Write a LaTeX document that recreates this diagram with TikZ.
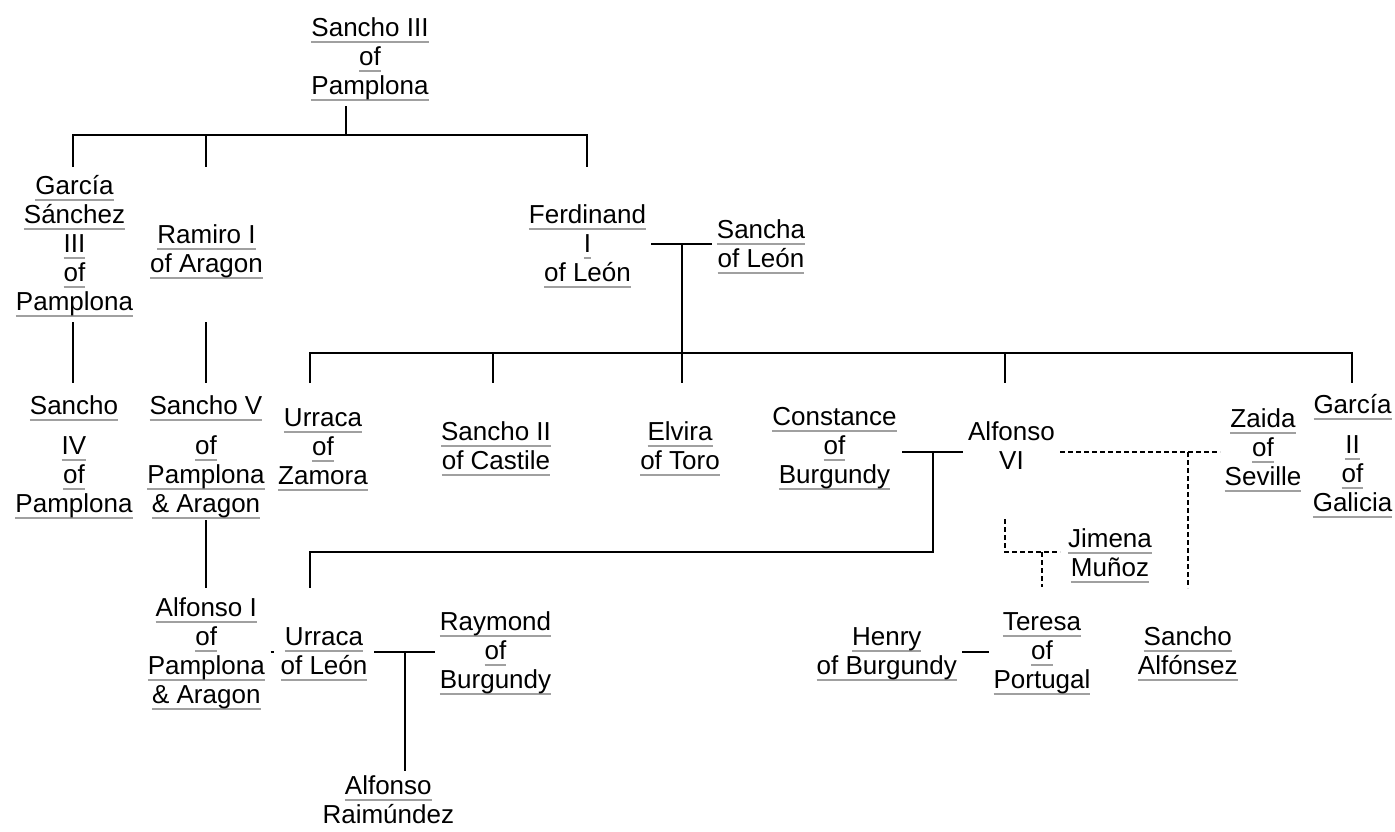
\documentclass[tikz,border=0pt]{standalone}
\usepackage{fontspec}
\setmainfont{Liberation Sans}
\definecolor{ulc}{HTML}{A0A0A0}
\newcommand\lk[1]{\setbox0\hbox{#1}\rlap{\color{ulc}\rule[-7.2pt]{\wd0}{2pt}}\box0\strut}
\tikzset{
  person/.style={inner sep=0pt, align=center, anchor=north, yshift=20.3pt, font={\fontsize{26}{29}\selectfont}},
  rel/.style={line width=1.8pt},
  ill/.style={line width=1.4pt, dash pattern=on 5pt off 3pt},
}
\begin{document}
\begin{tikzpicture}[x=1pt,y=-1pt]
\fill[white] (0,0) rectangle (1395,831);
\useasboundingbox (0,0) rectangle (1395,831);
% people
\node[person] (s3) at (370,36) {\lk{Sancho III}\\\lk{of}\\\lk{Pamplona}};
\node[person] (g3) at (74.5,194) {\lk{García}\\\lk{Sánchez}\\\lk{III}\\\lk{of}\\\lk{Pamplona}};
\node[person] (ram) at (206.5,243) {\lk{Ramiro I}\\\lk{of Aragon}};
\node[person] (fer) at (587.5,223) {\lk{Ferdinand}\\\lk{I}\\\lk{of León}};
\node[person] (sna) at (761,238) {\lk{Sancha}\\\lk{of León}};
\node[person] (s4) at (74,414) {\lk{Sancho}\\[11pt]\lk{IV}\\\lk{of}\\\lk{Pamplona}};
\node[person] (s5) at (206,414) {\lk{Sancho V}\\[11pt]\lk{of}\\\lk{Pamplona}\\\lk{\& Aragon}};
\node[person] (urz) at (323,426) {\lk{Urraca}\\\lk{of}\\\lk{Zamora}};
\node[person] (s2) at (496,440) {\lk{Sancho II}\\\lk{of Castile}};
\node[person] (elv) at (680,440) {\lk{Elvira}\\\lk{of Toro}};
\node[person] (con) at (834.5,425) {\lk{Constance}\\\lk{of}\\\lk{Burgundy}};
\node[person] (a6) at (1011.5,440) {Alfonso\strut\\VI\strut};
\node[person] (zai) at (1263,427) {\lk{Zaida}\\\lk{of}\\\lk{Seville}};
\node[person] (g2) at (1352.5,413) {\lk{García}\\[11pt]\lk{II}\\\lk{of}\\\lk{Galicia}};
\node[person] (jim) at (1110,547) {\lk{Jimena}\\\lk{Muñoz}};
\node[person] (a1) at (206.3,616) {\lk{Alfonso I}\\\lk{of}\\\lk{Pamplona}\\\lk{\& Aragon}};
\node[person] (url) at (324,645) {\lk{Urraca}\\\lk{of León}};
\node[person] (ray) at (495.5,630) {\lk{Raymond}\\\lk{of}\\\lk{Burgundy}};
\node[person] (ar) at (388.3,794) {\lk{Alfonso}\\Raimúndez\strut};
\node[person] (hen) at (886.8,645) {\lk{Henry}\\\lk{of Burgundy}};
\node[person] (ter) at (1042,630) {\lk{Teresa}\\\lk{of}\\\lk{Portugal}};
\node[person] (sal) at (1187.8,645) {\lk{Sancho}\\\lk{Alfónsez}};
% junction coordinates
\coordinate (s3d) at (346,106);
\coordinate (s3h) at (346,135);
\coordinate (hL) at (73,135);
\coordinate (hR) at (587,135);
\coordinate (hM) at (206,135);
\coordinate (g3t) at (73,167);
\coordinate (ramt) at (206,167);
\coordinate (fert) at (587,167);
\coordinate (g3b) at (73,322);
\coordinate (s4t) at (73,383);
\coordinate (ramb) at (206,322);
\coordinate (s5t) at (206,383);
\coordinate (s5b) at (206,520);
\coordinate (a1t) at (206,588);
\coordinate (ferR) at (651,244);
\coordinate (snaL) at (712,244);
\coordinate (fsm) at (682,244);
\coordinate (fsh) at (682,353);
\coordinate (elvt) at (682,383);
\coordinate (kL) at (310,353);
\coordinate (kR) at (1352,353);
\coordinate (urzt) at (310,383);
\coordinate (g2t) at (1352,383);
\coordinate (k2) at (493,353);
\coordinate (s2t) at (493,383);
\coordinate (k6) at (1005,353);
\coordinate (a6t) at (1005,383);
\coordinate (conR) at (902,452);
\coordinate (a6L) at (963,452);
\coordinate (cam) at (933,452);
\coordinate (camb) at (933,552);
\coordinate (urlh) at (310,552);
\coordinate (urlt) at (310,588);
\coordinate (a6R) at (1060,452);
\coordinate (zaiL) at (1220,452);
\coordinate (azm) at (1188,452);
\coordinate (salt) at (1188,588);
\coordinate (a6j) at (1005,519);
\coordinate (ajc) at (1005,552);
\coordinate (jimL) at (1060,552);
\coordinate (ajm) at (1042,552);
\coordinate (tert) at (1042,587);
\coordinate (henR) at (962,652);
\coordinate (terL) at (989,652);
\coordinate (urlR) at (374,652);
\coordinate (rayL) at (435,652);
\coordinate (urm) at (405,652);
\coordinate (art) at (405,771);
\coordinate (a1R) at (270.5,652);
\coordinate (urlL) at (274,652);
% solid connectors
\draw[rel] (s3d) -- (s3h);
\draw[rel] (g3t) -- (hL) -- (hR) -- (fert);
\draw[rel] (hM) -- (ramt);
\draw[rel] (g3b) -- (s4t);
\draw[rel] (ramb) -- (s5t);
\draw[rel] (s5b) -- (a1t);
\draw[rel] (ferR) -- (snaL);
\draw[rel] (fsm) -- (elvt);
\draw[rel] (urzt) -- (kL) -- (kR) -- (g2t);
\draw[rel] (k2) -- (s2t);
\draw[rel] (k6) -- (a6t);
\draw[rel] (conR) -- (a6L);
\draw[rel] (cam) -- (camb) -- (urlh) -- (urlt);
\draw[rel] (henR) -- (terL);
\draw[rel] (urlR) -- (rayL);
\draw[rel] (urm) -- (art);
\draw[rel] (a1R) -- (urlL);
% dashed connectors
\draw[ill] (a6R) -- (zaiL);
\draw[ill] (azm) -- (salt);
\draw[ill] (a6j) -- (ajc) -- (jimL);
\draw[ill] (ajm) -- (tert);
\end{tikzpicture}
\end{document}
